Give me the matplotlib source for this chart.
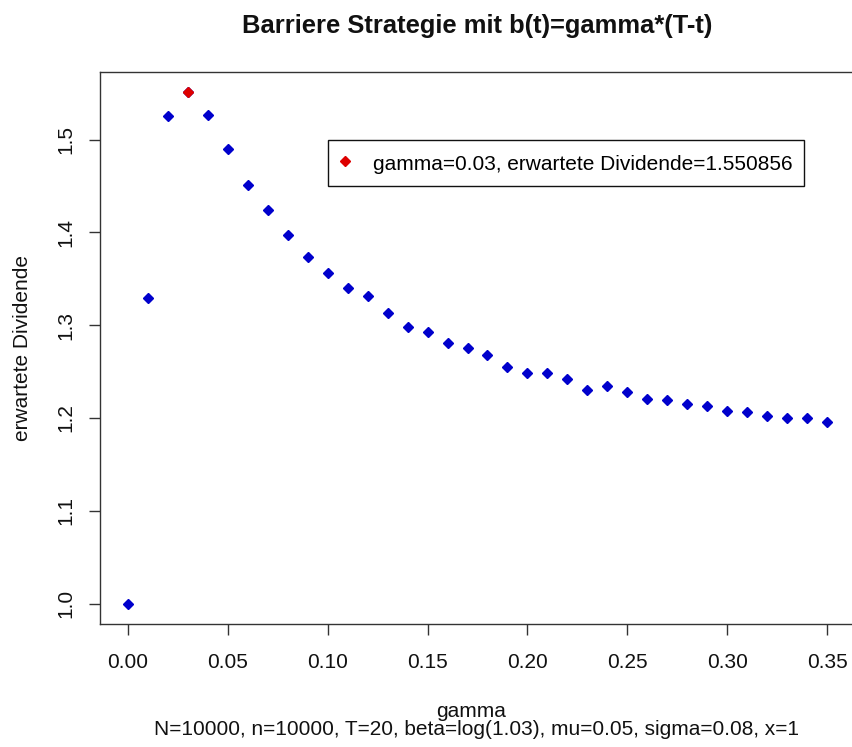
import matplotlib
matplotlib.use('Agg')
import matplotlib.pyplot as plt

plt.rcParams['font.family'] = ['Liberation Sans', 'DejaVu Sans']

# simulated expected dividend for each gamma
gamma = [0.00, 0.01, 0.02, 0.03, 0.04, 0.05, 0.06, 0.07, 0.08, 0.09,
         0.10, 0.11, 0.12, 0.13, 0.14, 0.15, 0.16, 0.17, 0.18, 0.19,
         0.20, 0.21, 0.22, 0.23, 0.24, 0.25, 0.26, 0.27, 0.28, 0.29,
         0.30, 0.31, 0.32, 0.33, 0.34, 0.35]
dividende = [1.000, 1.329, 1.525, 1.550856, 1.527, 1.490, 1.451, 1.424, 1.397, 1.374,
             1.356, 1.340, 1.332, 1.313, 1.298, 1.293, 1.281, 1.275, 1.268, 1.255,
             1.249, 1.248, 1.242, 1.230, 1.235, 1.228, 1.220, 1.219, 1.215, 1.213,
             1.207, 1.206, 1.202, 1.200, 1.200, 1.196]
best_gamma = 0.03
best_value = 1.550856

xticks = [0.00, 0.05, 0.10, 0.15, 0.20, 0.25, 0.30, 0.35]
xticklabels = ['0.00', '0.05', '0.10', '0.15', '0.20', '0.25', '0.30', '0.35']
yticks = [1.0, 1.1, 1.2, 1.3, 1.4, 1.5]
yticklabels = ['1.0', '1.1', '1.2', '1.3', '1.4', '1.5']

W, H = 853, 747
fig = plt.figure(figsize=(W / 100, H / 100), dpi=100)
# axes box in pixels: left 100, top 72, bottom 624, right just past the edge
ax = fig.add_axes([100 / W, 1 - 624 / H, 755 / W, 552 / H])

blue = '#0000cc'
red = '#dd0000'
ax.plot(gamma, dividende, linestyle='none', marker='D', ms=5.5, color=blue, mec=blue)
ax.plot([best_gamma], [best_value], linestyle='none', marker='D', ms=5.5,
        color=red, mec=red,
        label='gamma=0.03, erwartete Dividende=1.550856')

# R-style 4% padding
xr = max(gamma) - min(gamma)
yr = max(dividende) - min(dividende)
ax.set_xlim(min(gamma) - 0.04 * xr, max(gamma) + 0.04 * xr)
ax.set_ylim(min(dividende) - 0.04 * yr, max(dividende) + 0.04 * yr)

ax.set_xticks(xticks)
ax.set_xticklabels(xticklabels)
ax.set_yticks(yticks)
ax.set_yticklabels(yticklabels, rotation=90, va='center')
ax.tick_params(axis='both', direction='out', length=8, width=1, color='#333333',
               labelsize=15, labelcolor='#111111')
ax.tick_params(axis='x', pad=13)
ax.tick_params(axis='y', pad=10)
for s in ax.spines.values():
    s.set_color('#333333')
    s.set_linewidth(1)
ax.spines['right'].set_visible(False)  # cut off in the original

ax.set_ylabel('erwartete Dividende', fontsize=15, color='#111111', labelpad=17.5)

fig.text(477 / W, 1 - 33 / H, 'Barriere Strategie mit b(t)=gamma*(T-t)', ha='center',
         va='baseline', fontsize=18.4, fontweight='bold', color='#111111')
fig.text(471 / W, 1 - 717 / H, 'gamma', ha='center', va='baseline', fontsize=15,
         color='#111111')
fig.text(477 / W, 1 - 735 / H,
         'N=10000, n=10000, T=20, beta=log(1.03), mu=0.05, sigma=0.08, x=1',
         ha='center', va='baseline', fontsize=15, color='#111111')

leg = ax.legend(loc='upper left', bbox_to_anchor=(328 / W, 1 - 140 / H),
                bbox_transform=fig.transFigure, borderaxespad=0, fontsize=15,
                frameon=True, fancybox=False, edgecolor='#111111',
                handlelength=0.53, handleheight=1.35, handletextpad=1.08,
                borderpad=0.55)
leg.get_frame().set_linewidth(1)
leg.get_frame().set_alpha(1)

fig.savefig('out.png', dpi=100)
